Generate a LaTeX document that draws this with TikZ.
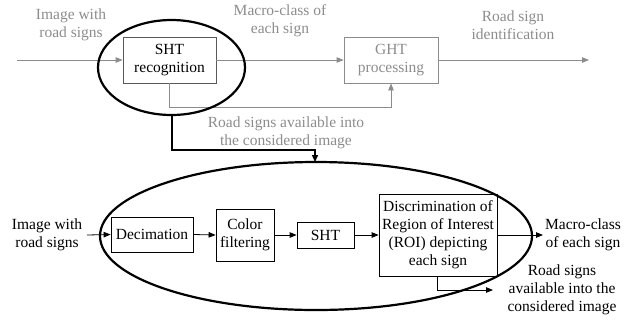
\documentclass[tikz,border=0pt]{standalone}
\usepackage{fontspec}
\setmainfont{Liberation Serif}
\newfontfamily\timesf{Liberation Serif}
\usetikzlibrary{arrows.meta}
\definecolor{lg}{gray}{0.55}
\definecolor{bd}{gray}{0.35}
\begin{document}
\begin{tikzpicture}[x=1pt,y=-1pt,
  txt/.style={font=\timesf\fontsize{15.5}{18}\selectfont,align=center,inner sep=0pt},
  gtxt/.style={txt,text=lg},
  blk/.style={draw,line width=0.8pt,inner sep=0pt,txt},
  gblk/.style={draw=lg,line width=0.8pt,inner sep=0pt,gtxt},
  garr/.style={draw=lg,line width=0.8pt,-{Triangle[length=7pt,width=5.5pt]},color=lg},
  barr/.style={draw,line width=0.8pt,-{Triangle[length=7pt,width=5.5pt]}},
  thick2/.style={line width=2.2pt}]
\useasboundingbox (0,0) rectangle (628,322);
% top row
\coordinate (in1) at (17,60);
\node[blk,draw=bd,minimum width=93pt,minimum height=46pt] (sht) at (169.5,60) {SHT\\recognition};
\node[gblk,minimum width=94pt,minimum height=46pt] (ght) at (391,60) {GHT\\processing};
\coordinate (out1) at (589,60);
\draw[garr] (in1) -- (sht.west);
\draw[garr] (sht.east) -- (ght.west);
\draw[garr] (ght.east) -- (out1);
\coordinate (jb) at (169,107);
\draw[garr] (sht.south -| jb) |- (391,107) -- (ght.south);
\node[gtxt] (l1) at (71,25) {Image with\\road signs};
\node[gtxt] (l2) at (280,21) {Macro-class of\\each sign};
\node[gtxt] (l3) at (513,25) {Road sign\\identification};
\node[gtxt] (l4) at (286,133) {Road signs available into\\the considered image};
\draw[thick2] (171.5,67.5) ellipse (73.5 and 47.5);
% bottom ellipse
\draw[thick2] (316,236) ellipse (216 and 74);
\coordinate (e1) at (172,115);
\coordinate (e2) at (315,162);
\draw[thick2] (e1) -- (172,150) -- (315,150);
\draw[line width=1.4pt,-{Triangle[length=7pt,width=6pt]}] (315,149) -- (e2);
% bottom row
\node[txt] (bin) at (47,235) {Image with\\road signs};
\node[blk,minimum width=82pt,minimum height=35pt] (dec) at (152,234.5) {Decimation};
\node[blk,minimum width=58pt,minimum height=52pt] (col) at (245,235) {Color\\filtering};
\node[blk,minimum width=57pt,minimum height=26pt] (sht2) at (325.5,235) {SHT};
\node[blk,minimum width=118pt,minimum height=82pt] (dis) at (438,235) {Discrimination of\\Region of Interest\\(ROI) depicting\\each sign};
\node[txt] (mc) at (583,235) {Macro-class\\of each sign};
\node[txt] (rs) at (562,290) {Road signs\\available into the\\considered image};
\coordinate (bstart) at (87,235);
\coordinate (mcend) at (543,235);
\coordinate (rsend) at (493,290);
\draw[barr] (bstart) -- (dec.west);
\draw[barr] (dec.east) -- (col.west);
\draw[barr] (col.east) -- (sht2.west);
\draw[barr] (sht2.east) -- (dis.west);
\draw[barr] (dis.east) -- (mcend);
\draw[barr] (dis.south -| 437,0) |- (rsend);
\end{tikzpicture}
\end{document}
